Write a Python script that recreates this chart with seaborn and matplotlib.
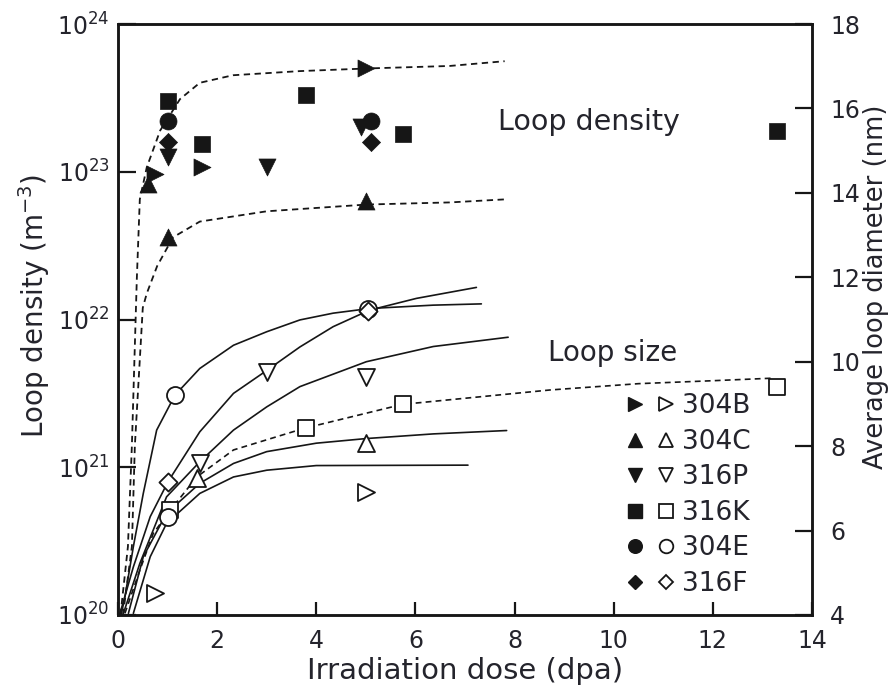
import numpy as np
import pandas as pd
import matplotlib
matplotlib.use("Agg")
import matplotlib.pyplot as plt
from matplotlib.lines import Line2D
from matplotlib.legend_handler import HandlerTuple
import seaborn as sns

# ---- measured points: loop density (left axis, m^-3) ----
dens_304B_x = [0.75, 1.7, 5.0]
dens_304B_y = [9.6e22, 1.07e23, 5.0e23]
dens_304C_x = [0.6, 1.0, 5.0]
dens_304C_y = [8.3e22, 3.6e22, 6.3e22]
dens_316P_x = [1.0, 3.0, 4.9]
dens_316P_y = [1.26e23, 1.07e23, 2.0e23]
dens_316K_x = [1.0, 1.7, 3.8, 5.75, 13.3]
dens_316K_y = [3.0e23, 1.55e23, 3.3e23, 1.8e23, 1.9e23]
dens_304E_x = [1.0, 5.1]
dens_304E_y = [2.2e23, 2.2e23]
dens_316F_x = [1.0, 5.1]
dens_316F_y = [1.6e23, 1.6e23]

# ---- measured points: average loop diameter (right axis, nm) ----
size_304B_x = [0.75, 5.0]
size_304B_y = [4.52, 6.91]
size_304C_x = [1.6, 5.0]
size_304C_y = [7.25, 8.07]
size_316P_x = [1.65, 3.0, 5.0]
size_316P_y = [7.60, 9.76, 9.64]
size_316K_x = [1.05, 3.8, 5.75, 13.3]
size_316K_y = [6.49, 8.43, 9.0, 9.40]
size_304E_x = [1.0, 1.15, 5.05]
size_304E_y = [6.32, 9.21, 11.25]
size_316F_x = [1.0, 5.05]
size_316F_y = [7.15, 11.20]

# ---- trend curves for loop density (dashed) ----
trend_dens_hi_x = [0.05, 0.2, 0.28, 0.38, 0.44, 0.58, 0.85, 1.25, 1.65, 2.32, 3.67, 5.02, 6.69, 7.8]
trend_dens_hi_y = [1.0e20, 2.9e20, 1.4e21, 1.9e22, 6.5e22, 1.07e23, 1.9e23, 3.1e23, 4.0e23,
                   4.5e23, 4.8e23, 5.0e23, 5.2e23, 5.6e23]
trend_dens_lo_x = [0.1, 0.28, 0.34, 0.5, 0.58, 0.79, 1.11, 1.65, 3.0, 5.02, 6.69, 7.8]
trend_dens_lo_y = [1.0e20, 2.9e20, 1.4e21, 1.2e22, 1.5e22, 2.3e22, 3.6e22, 4.6e22, 5.4e22,
                   6.0e22, 6.2e22, 6.5e22]

# ---- trend curves for loop size ----
trend_a_x = [0.07, 0.14, 0.31, 0.51, 0.78, 1.15, 1.65, 2.33, 3.0, 3.67, 4.34, 5.07, 6.36, 7.33]
trend_a_y = [4.04, 4.43, 5.62, 6.88, 8.38, 9.21, 9.84, 10.39, 10.71, 10.99, 11.15, 11.26, 11.34, 11.37]
trend_b_x = [0.04, 0.31, 0.65, 1.01, 1.65, 2.33, 2.96, 3.67, 4.34, 5.07, 6.02, 7.23]
trend_b_y = [4.04, 5.14, 6.33, 7.16, 8.34, 9.25, 9.76, 10.35, 10.83, 11.22, 11.50, 11.76]
trend_c_x = [0.11, 0.44, 0.98, 1.65, 2.33, 3.0, 3.67, 5.01, 6.36, 7.87]
trend_c_y = [4.04, 5.22, 6.80, 7.63, 8.38, 8.93, 9.41, 10.00, 10.36, 10.58]
trend_k_x = [0.14, 0.44, 0.71, 1.06, 1.59, 2.33, 3.75, 5.74, 8.71, 10.5, 12.0, 13.2]
trend_k_y = [4.04, 5.06, 5.93, 6.49, 7.27, 7.91, 8.42, 8.99, 9.33, 9.48, 9.55, 9.61]
trend_e_x = [0.21, 0.51, 0.98, 1.65, 2.33, 3.0, 4.0, 5.01, 6.36, 7.84]
trend_e_y = [4.04, 5.38, 6.41, 7.12, 7.59, 7.87, 8.07, 8.18, 8.29, 8.37]
trend_f_x = [0.31, 0.65, 0.98, 1.65, 2.33, 3.0, 4.0, 7.06]
trend_f_y = [4.04, 5.38, 6.17, 6.88, 7.27, 7.43, 7.54, 7.55]

alloys = ["304B", "304C", "316P", "316K", "304E", "316F"]
alloy_markers = [">", "^", "v", "s", "o", "D"]
alloy_sizes = [150, 150, 150, 140, 150, 85]

x_ticks = [0, 2, 4, 6, 8, 10, 12, 14]
diam_ticks = [4, 6, 8, 10, 12, 14, 16, 18]

sns.set_style("ticks")
plt.rcParams["font.family"] = ["DejaVu Sans"]
plt.rcParams["mathtext.fontset"] = "dejavusans"

TXT = "#24242c"
INK = "#161616"

fig = plt.figure(figsize=(8.95, 6.91), dpi=100)
ax = fig.add_axes([118 / 895, 76 / 691, 694 / 895, 591 / 691])
ax2 = ax.twinx()

# dashed density trends
for tx, ty in [(trend_dens_hi_x, trend_dens_hi_y), (trend_dens_lo_x, trend_dens_lo_y)]:
    sns.lineplot(x=tx, y=ty, ax=ax, color=INK, lw=1.3, linestyle=(0, (3.5, 2.5)),
                 sort=False, estimator=None)

# size trends
size_curves = [(trend_a_x, trend_a_y, "-"), (trend_b_x, trend_b_y, "-"),
               (trend_c_x, trend_c_y, "-"), (trend_k_x, trend_k_y, (0, (3.5, 2.5))),
               (trend_e_x, trend_e_y, "-"), (trend_f_x, trend_f_y, "-")]
for tx, ty, ls in size_curves:
    sns.lineplot(x=tx, y=ty, ax=ax2, color=INK, lw=1.2, linestyle=ls,
                 sort=False, estimator=None)

dens_sets = [(dens_304B_x, dens_304B_y), (dens_304C_x, dens_304C_y), (dens_316P_x, dens_316P_y),
             (dens_316K_x, dens_316K_y), (dens_304E_x, dens_304E_y), (dens_316F_x, dens_316F_y)]
size_sets = [(size_304B_x, size_304B_y), (size_304C_x, size_304C_y), (size_316P_x, size_316P_y),
             (size_316K_x, size_316K_y), (size_304E_x, size_304E_y), (size_316F_x, size_316F_y)]

for (dx, dy), m, s in zip(dens_sets, alloy_markers, alloy_sizes):
    sns.scatterplot(x=dx, y=dy, ax=ax, marker=m, s=s, color=INK, edgecolor=INK,
                    linewidth=0.5, zorder=5)
for (sx, sy), m, s in zip(size_sets, alloy_markers, alloy_sizes):
    sns.scatterplot(x=sx, y=sy, ax=ax2, marker=m, s=s, facecolors="white", edgecolor=INK,
                    linewidth=1.3, zorder=5)

ax.set_yscale("log")
ax.set_xlim(0, 14)
ax.set_ylim(1e20, 1e24)
ax2.set_ylim(4, 18)
ax.set_xticks(x_ticks)
ax.set_yticks([1e20, 1e21, 1e22, 1e23, 1e24])
ax.yaxis.set_minor_locator(matplotlib.ticker.NullLocator())
ax2.set_yticks(diam_ticks)
ax.set_zorder(ax2.get_zorder() + 1)
ax.patch.set_visible(False)

for a in (ax, ax2):
    a.tick_params(direction="in", length=13, width=1.6, labelsize=17, colors=INK,
                  labelcolor=TXT, pad=6)
    for sp in a.spines.values():
        sp.set_linewidth(1.8)
        sp.set_color(INK)
ax.tick_params(axis="x", length=9.5, pad=10)
ax2.tick_params(axis="y", length=12, pad=13)

ax.set_xlabel("Irradiation dose (dpa)", fontsize=21, color=TXT, labelpad=3)
ax.set_ylabel("Loop density (m$^{-3}$)", fontsize=20, color=TXT, labelpad=4)
ax2.set_ylabel("Average loop diameter (nm)", fontsize=18.5, color=TXT, labelpad=2)
ax.yaxis.label.set_y(0.523)
ax2.yaxis.label.set_y(0.555)

ax.text(0.679, 0.834, "Loop density", transform=ax.transAxes, fontsize=20.5,
        color=TXT, ha="center", va="center")
ax.text(0.713, 0.443, "Loop size", transform=ax.transAxes, fontsize=20,
        color=TXT, ha="center", va="center")

handles = []
for m, s in zip(alloy_markers, alloy_sizes):
    ms = np.sqrt(s) * 0.8
    filled = Line2D([], [], marker=m, linestyle="none", markersize=ms,
                    markerfacecolor=INK, markeredgecolor=INK)
    hollow = Line2D([], [], marker=m, linestyle="none", markersize=ms,
                    markerfacecolor="white", markeredgecolor=INK, markeredgewidth=1.3)
    handles.append((filled, hollow))
ax.legend(handles, alloys, handler_map={tuple: HandlerTuple(ndivide=None, pad=0.5)},
          loc="upper left", bbox_to_anchor=(0.733, 0.375), frameon=False, fontsize=19,
          labelcolor=TXT, handlelength=1.8, handletextpad=0.3, labelspacing=0.36,
          borderaxespad=0, borderpad=0)

fig.savefig("out.png", dpi=100)
